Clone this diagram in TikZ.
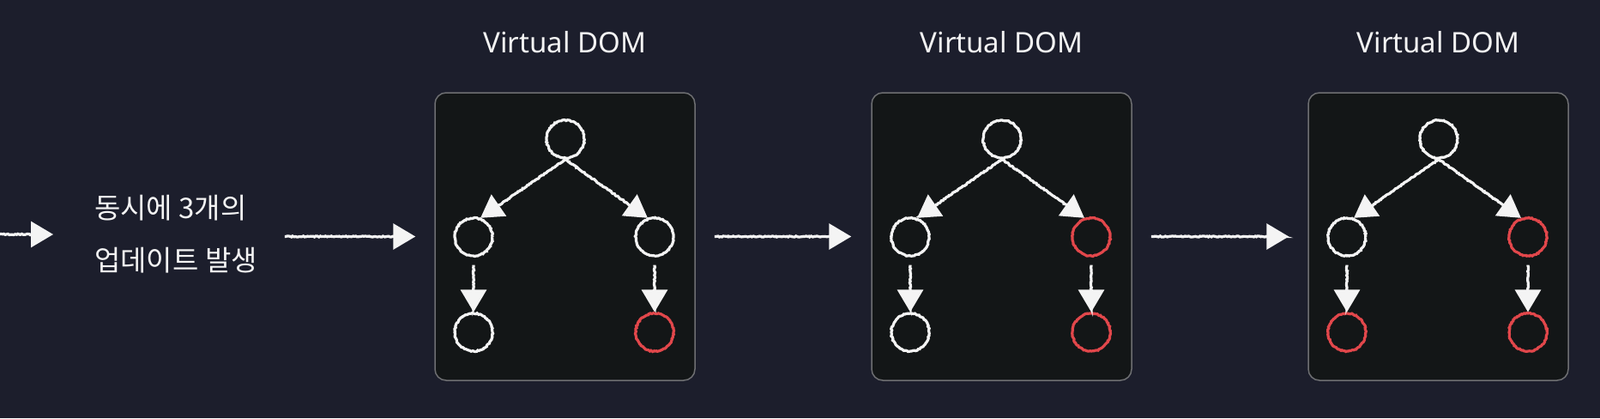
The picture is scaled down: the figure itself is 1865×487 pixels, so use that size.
\documentclass[tikz,border=0pt]{standalone}
\usepackage{fontspec}
\setmainfont{Noto Sans}
\newfontfamily\krfont{Noto Sans CJK KR}
\usetikzlibrary{arrows.meta,decorations.pathmorphing,calc}
\definecolor{bg}{HTML}{1C1E2C}
\definecolor{boxfill}{HTML}{131617}
\definecolor{boxline}{HTML}{6E6F72}
\definecolor{chalk}{HTML}{F4F4F4}
\definecolor{chalkred}{HTML}{E2474B}
\begin{document}
\begin{tikzpicture}[x=1pt,y=-1pt,
  rough/.style={decorate, decoration={random steps, segment length=1.6pt, amplitude=0.6pt}},
  vbox/.style={draw=boxline, fill=boxfill, line width=1.5pt, rounded corners=13pt,
               minimum width=303pt, minimum height=335pt, inner sep=0},
  title/.style={text=chalk, font=\fontsize{33}{40}\selectfont, inner sep=0},
  nd/.style={circle, draw=chalk, line width=3.2pt, minimum size=44pt, inner sep=0, rough},
  arr/.style={draw=chalk, line width=3.2pt, -{Triangle[length=26pt,width=30pt]},
              decorate, decoration={random steps, segment length=1.6pt, amplitude=0.6pt,
              pre=lineto, pre length=1pt, post=lineto, post length=6pt}}
]
\fill[bg] (0,0) rectangle (1865,487);
\useasboundingbox (0,0) rectangle (1865,487);

\node[text=chalk, align=left, anchor=west, inner sep=0,
      font=\krfont\fontsize{33}{61}\selectfont] (txt) at (110,273)
      {동시에 3개의\\업데이트 발생};
\coordinate (start) at (-4,273);

\foreach \i/\bx/\ca/\cb/\cc in {1/507/chalk/chalk/chalkred,
                                 2/1016/chalkred/chalk/chalkred,
                                 3/1525/chalkred/chalkred/chalkred}{
  \node[vbox] (b\i) at (\bx+151.5,275.5) {};
  \node[title, anchor=base] (t\i) at (\bx+151.5,62) {Virtual DOM};
  \node[nd] (r\i) at (\bx+152,162) {};
  \node[nd] (l\i) at (\bx+45,276) {};
  \node[nd, draw=\ca] (rr\i) at (\bx+256,276) {};
  \node[nd, draw=\cb] (lb\i) at (\bx+45,387) {};
  \node[nd, draw=\cc] (rb\i) at (\bx+256,387) {};
  \draw[arr] (r\i.south) -- (l\i.70);
  \draw[arr] (r\i.south) -- (rr\i.110);
  \draw[arr] ($(l\i.south)+(0,9)$) -- (lb\i.north);
  \draw[arr] ($(rr\i.south)+(0,9)$) -- (rb\i.north);
}

\draw[arr] (start) -- ($(txt.west)+(-48,0)$);
\draw[arr] ($(txt.east |- b1.west)+(32,0)$) -- ($(b1.west)+(-22,0)$);
\draw[arr] ($(b1.east)+(22,0)$) -- ($(b2.west)+(-23,0)$);
\draw[arr] ($(b2.east)+(22,0)$) -- ($(b3.west)+(-22,0)$);
\end{tikzpicture}
\end{document}
